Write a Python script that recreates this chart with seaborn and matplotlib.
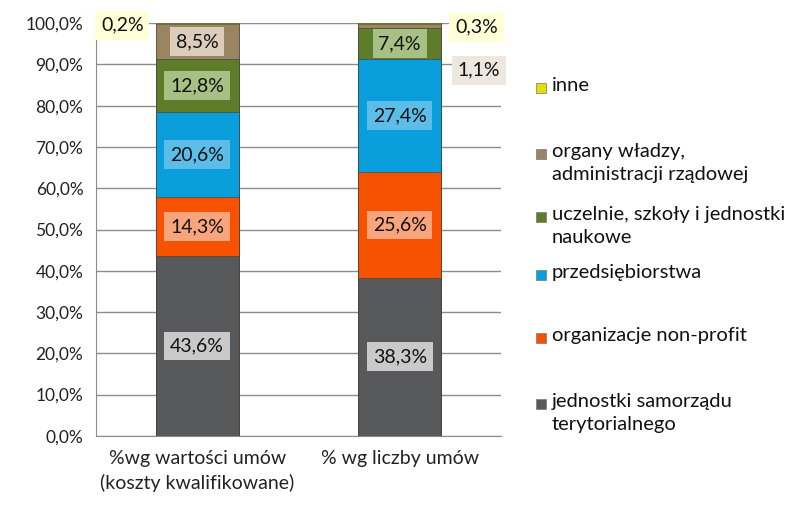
import numpy as np
import pandas as pd
import matplotlib
matplotlib.use("Agg")
import matplotlib.pyplot as plt
from matplotlib.patches import Rectangle
import seaborn as sns

kategorie = ["%wg wartości umów\n(koszty kwalifikowane)", "% wg liczby umów"]
grupy = ["jednostki samorządu\nterytorialnego", "organizacje non-profit",
         "przedsiębiorstwa", "uczelnie, szkoły i jednostki\nnaukowe",
         "organy władzy,\nadministracji rządowej", "inne"]
wartosci_umow = [43.6, 14.3, 20.6, 12.8, 8.5, 0.2]
liczba_umow = [38.3, 25.6, 27.4, 7.4, 1.1, 0.3]
kolory = ["#58595b", "#f65200", "#0a9fdc", "#5e7d2b", "#9a8462", "#e2e000"]
kolory_etykiet = ["#c9c9c9", "#f8a47c", "#5cbde8", "#a7c083", "#dccdbb", "#ffffd8"]
kolory_etykiet_zew = {4: "#eee7df"}

sns.set_style("white")
plt.rcParams["font.family"] = ["Lato", "DejaVu Sans"]

df = pd.DataFrame({"kat": kategorie,
                   **{g: v for g, v in zip(grupy, zip(wartosci_umow, liczba_umow))}})
cum = df[grupy].cumsum(axis=1)

fig = plt.figure(figsize=(7.99, 5.14), dpi=100)
ax = fig.add_axes([0.120, 0.152, 0.507, 0.803])

# stacked bars: cumulative totals drawn from the top down
for i in range(len(grupy) - 1, -1, -1):
    sns.barplot(x=df["kat"], y=cum[grupy[i]], color=kolory[i], width=0.41,
                saturation=1, edgecolor="#3a3a3a", linewidth=0.4, ax=ax, zorder=3)

ax.set_ylim(0, 100)
ax.set_xlim(-0.5, 1.5)
ax.set_yticks(np.arange(0, 101, 10))
ax.set_yticklabels([f"{t:.1f}".replace(".", ",") + "%" for t in np.arange(0, 101, 10)],
                   fontsize=12.5, color="#222222")
ax.set_xticks([0, 1])
ax.set_xticklabels(kategorie, fontsize=14, color="#222222", linespacing=1.45)
ax.set_xticks([-0.5, 0.5, 1.5], minor=True)
ax.tick_params(axis="x", which="major", length=0, pad=10)
ax.tick_params(axis="x", which="minor", length=5, color="#888888", direction="out")
ax.tick_params(axis="y", length=5, color="#888888", direction="out", pad=4)
ax.set_xlabel("")
ax.set_ylabel("")
ax.grid(axis="y", color="#8c8c8c", linewidth=1, zorder=0)
ax.set_axisbelow(True)
for s in ["top", "right"]:
    ax.spines[s].set_visible(False)
for s in ["left", "bottom"]:
    ax.spines[s].set_color("#8c8c8c")

# data labels
offsets = {(0, 5): (-0.37, 99.5), (1, 5): (0.38, 99.0), (1, 4): (0.39, 88.6)}
for j in range(len(kategorie)):
    dol = 0
    for i, g in enumerate(grupy):
        v = df.loc[j, g]
        tekst = f"{v:.1f}".replace(".", ",") + "%"
        fc = kolory_etykiet[i]
        if (j, i) in offsets:
            dx, y = offsets[(j, i)]
            x = j + dx
            fc = kolory_etykiet_zew.get(i, fc)
        else:
            x, y = j, dol + v / 2
        ax.text(x, y, tekst, ha="center", va="center", fontsize=14, color="#111111",
                zorder=5, bbox=dict(boxstyle="square,pad=0.3", fc=fc, ec="none"))
        dol += v

# legend (Excel-like evenly spaced slots)
leg_y = [404, 338, 275, 217, 154, 88]
for i, g in enumerate(grupy):
    fy = 1 - leg_y[i] / 514
    fig.patches.append(Rectangle((536 / 799, fy - 5 / 514), 10 / 799, 10 / 514,
                                 transform=fig.transFigure, fc=kolory[i],
                                 ec="#777777", lw=0.5))
    fig.text(552 / 799, 1 - (leg_y[i] - 11) / 514, g, fontsize=14.5, color="#111111",
             va="top", ha="left", linespacing=1.4)

fig.savefig("out.png", dpi=100)
